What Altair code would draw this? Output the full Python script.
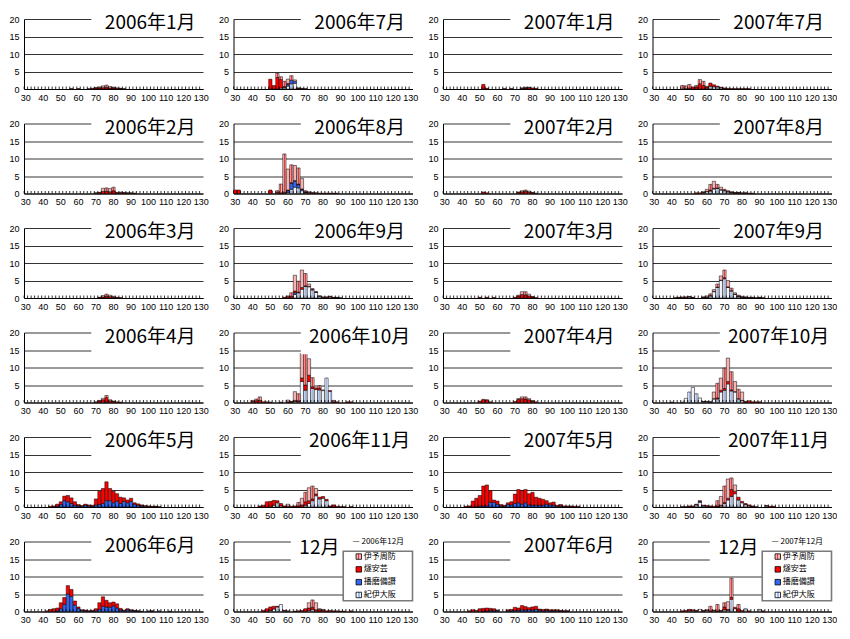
import altair as alt
import pandas as pd

# ---------------- data ----------------
CATS = list(range(30, 131, 2))          # size classes (x categories)
XLABELS = list(range(30, 131, 10))
YTICKS = [0, 5, 10, 15, 20]
SERIES = ["紀伊大阪", "播磨備讃", "燧安芸", "伊予周防"]      # stacking order, bottom -> top
LEGEND_ORDER = ["伊予周防", "燧安芸", "播磨備讃", "紀伊大阪"]

GRID = [
    ["2006年1月", "2006年7月", "2007年1月", "2007年7月"],
    ["2006年2月", "2006年8月", "2007年2月", "2007年8月"],
    ["2006年3月", "2006年9月", "2007年3月", "2007年9月"],
    ["2006年4月", "2006年10月", "2007年4月", "2007年10月"],
    ["2006年5月", "2006年11月", "2007年5月", "2007年11月"],
    ["2006年6月", "2006年12月", "2007年6月", "2007年12月"],
]

# each entry: size class -> (紀伊大阪, 播磨備讃, 燧安芸, 伊予周防)
D0601 = {56: (0, 0, 0.1, 0), 60: (0, 0, 0.1, 0), 66: (0, 0, 0.1, 0), 68: (0, 0, 0.2, 0),
         70: (0, 0, 0.3, 0.1), 72: (0, 0, 0.3, 0.3), 74: (0, 0, 0.4, 0.5), 76: (0, 0, 0.4, 0.7),
         78: (0, 0, 0.3, 0.4), 80: (0, 0, 0.3, 0.2), 82: (0, 0, 0.2, 0.1), 84: (0, 0, 0.1, 0.1),
         86: (0, 0, 0.1, 0)}
D0602 = {70: (0, 0, 0.1, 0.1), 72: (0, 0, 0.2, 0.1), 74: (0, 0, 0.6, 0.9), 76: (0, 0, 0.6, 1.0),
         78: (0, 0, 0.5, 0.9), 80: (0, 0, 0.8, 1.0), 82: (0, 0, 0.2, 0.1), 84: (0, 0, 0.2, 0.2),
         86: (0, 0, 0.2, 0.1), 88: (0, 0, 0.1, 0.1), 90: (0, 0, 0.1, 0.1), 92: (0, 0, 0.1, 0)}
D0603 = {72: (0, 0, 0.1, 0.1), 74: (0, 0, 0.3, 0.4), 76: (0, 0, 0.5, 0.6), 78: (0, 0, 0.4, 0.4),
         80: (0, 0, 0.2, 0.3), 82: (0, 0, 0.1, 0.1), 84: (0, 0, 0.1, 0)}
D0604 = {70: (0, 0, 0.2, 0), 72: (0, 0, 0.4, 0.2), 74: (0, 0, 0.8, 0.4), 76: (0, 0.2, 1.2, 0.6),
         78: (0, 0, 0.5, 0.3), 80: (0, 0, 0.3, 0.1), 82: (0, 0, 0.2, 0), 84: (0, 0, 0.1, 0)}
D0605 = {44: (0, 0, 0.2, 0), 46: (0, 0, 0.3, 0), 48: (0, 0.2, 0.6, 0), 50: (0, 0.7, 0.8, 0),
         52: (0, 1.8, 1.3, 0), 54: (0, 1.5, 1.8, 0), 56: (0, 1.0, 1.6, 0), 58: (0, 0.5, 1.0, 0),
         60: (0, 0.3, 0.4, 0), 62: (0, 0.2, 0.2, 0), 64: (0, 0.5, 0.3, 0), 66: (0, 0.3, 0.3, 0),
         68: (0, 0.2, 0.3, 0), 70: (0, 0.5, 1.8, 0), 72: (0, 0.7, 3.8, 0), 74: (0, 1.0, 4.3, 0),
         76: (0, 1.8, 5.4, 0), 78: (0, 1.8, 3.5, 0), 80: (0, 1.2, 3.3, 0), 82: (0, 1.7, 2.1, 0),
         84: (0, 1.0, 1.8, 0), 86: (0, 1.6, 1.0, 0), 88: (0, 1.2, 0.8, 0), 90: (0, 1.6, 0.9, 0),
         92: (0, 0.8, 0.4, 0), 94: (0, 0.5, 0.4, 0), 96: (0, 0.3, 0.3, 0), 98: (0, 0.2, 0.2, 0),
         100: (0, 0.1, 0.2, 0), 102: (0, 0.1, 0.1, 0), 104: (0, 0.1, 0.1, 0), 106: (0, 0, 0.1, 0)}
D0606 = {42: (0, 0, 0.2, 0), 44: (0, 0, 0.6, 0), 46: (0, 0, 0.8, 0), 48: (0, 0.2, 0.8, 0),
         50: (0, 0.8, 1.7, 0), 52: (0, 2.0, 2.0, 0), 54: (0, 5.0, 2.4, 0), 56: (0, 4.3, 2.0, 0),
         58: (0, 1.8, 1.2, 0), 60: (0, 0.9, 0.4, 0), 62: (0, 0.3, 0.2, 0), 64: (0, 0.2, 0.2, 0),
         66: (0, 0.1, 0.1, 0), 68: (0, 0.1, 0.2, 0), 70: (0, 0.2, 0.6, 0), 72: (0, 0.6, 1.9, 0),
         74: (0, 1.5, 2.7, 0), 76: (0, 1.3, 1.9, 0), 78: (0, 1.2, 1.3, 0), 80: (0, 1.6, 1.1, 0),
         82: (0, 1.0, 1.2, 0), 84: (0, 0.4, 0.5, 0), 86: (0, 0.2, 0.2, 0), 88: (0, 0.5, 0.3, 0),
         90: (0, 0.3, 0.2, 0), 92: (0, 0.2, 0.1, 0), 94: (0, 0.1, 0.1, 0), 96: (0, 0.1, 0, 0),
         100: (0, 0.2, 0, 0), 102: (0, 0.1, 0.1, 0), 106: (0, 0.2, 0, 0), 112: (0, 0.1, 0, 0)}
D0607 = {50: (0, 0, 2.8, 0), 52: (0, 0, 1.0, 0), 54: (0, 0, 3.3, 1.2), 56: (0.3, 0, 2.4, 0.8),
         58: (0.4, 0, 0.3, 1.5), 60: (0.8, 0.5, 0.3, 1.2), 62: (1.5, 1.0, 0, 1.3),
         64: (1.6, 0.6, 0, 0.4), 66: (0.1, 0, 0.1, 0.1), 68: (0, 0, 0.1, 0.1), 70: (0, 0, 0.1, 0)}
D0608 = {30: (0, 0, 1.0, 0), 32: (0, 0, 1.0, 0), 50: (0, 0, 1.0, 0), 54: (0, 0, 0.3, 0.5),
         56: (0, 0, 0.2, 2.5), 58: (0, 0, 0.3, 11.0), 60: (0.3, 0.5, 0.2, 6.0),
         62: (1.2, 1.7, 0.2, 5.1), 64: (1.8, 1.7, 0.2, 4.3), 66: (1.6, 0.9, 0.2, 4.6),
         68: (0.8, 0.3, 0.2, 3.0), 70: (0.2, 0.1, 0.2, 0.3), 72: (0.1, 0, 0.2, 0.2),
         74: (0, 0, 0.1, 0.2), 76: (0, 0, 0.1, 0.1), 78: (0, 0, 0.1, 0), 80: (0, 0, 0.1, 0),
         82: (0, 0, 0.1, 0), 84: (0, 0, 0.1, 0), 86: (0, 0, 0.1, 0), 88: (0, 0, 0.1, 0)}
D0609 = {58: (0, 0, 0.2, 0), 60: (0, 0, 0.4, 0.2), 62: (0, 0, 0.5, 1.0), 64: (1.0, 0.5, 0.5, 4.5),
         66: (1.5, 0, 0.2, 3.1), 68: (2.5, 0, 0.5, 5.0), 70: (3.3, 0, 0.2, 3.5),
         72: (3.2, 0, 0.1, 0.7), 74: (2.3, 0, 0.1, 0.3), 76: (1.6, 0, 0.1, 0.1),
         78: (0.5, 0, 0.1, 0), 80: (0.2, 0, 0.1, 0), 82: (0.2, 0, 0.1, 0), 84: (0.3, 0, 0.2, 0),
         86: (0.1, 0, 0.1, 0), 88: (0.1, 0, 0.1, 0), 90: (0.1, 0, 0, 0)}
D0610 = {40: (0, 0, 0.3, 0.3), 42: (0, 0, 0.5, 0.5), 44: (0, 0, 0.6, 1.0), 46: (0, 0, 0.2, 0),
         48: (0, 0, 0.2, 0), 50: (0, 0, 0.1, 0), 56: (0, 0, 0.1, 0), 60: (0, 0, 0.2, 0.5),
         62: (0, 0, 0.2, 0.1), 64: (0.3, 0, 0.3, 2.5), 66: (0.2, 0, 0.3, 2.0),
         68: (6.0, 0, 1.0, 7.0), 70: (3.5, 0, 1.5, 9.5), 72: (6.0, 0, 1.8, 4.7),
         74: (4.0, 0, 0.5, 2.6), 76: (3.7, 0, 0.5, 0), 78: (3.6, 0, 0.5, 0.7),
         80: (3.4, 0, 0, 0.2), 82: (7.0, 0, 0, 0), 84: (3.2, 0, 0.2, 0), 86: (0, 0, 0.2, 0.4),
         88: (0, 0, 0.2, 0), 94: (0, 0, 0.2, 0), 96: (0, 0, 0.2, 0)}
D0611 = {44: (0, 0, 0.3, 0), 46: (0, 0, 0.5, 0), 48: (0, 0, 1.5, 0), 50: (0, 0, 1.6, 0),
         52: (0.5, 0, 1.4, 0), 54: (1.2, 0, 0.6, 0), 56: (0.3, 0, 0.7, 0), 58: (0, 0, 0.3, 0),
         60: (0, 0, 0.2, 0.6), 62: (0, 0, 0.2, 0), 64: (0, 0, 0.3, 0), 66: (0, 0, 0.3, 1.0),
         68: (0, 0, 0.6, 1.9), 70: (0.5, 0, 1.0, 2.7), 72: (1.0, 0, 0.8, 3.7),
         74: (1.8, 0, 0.5, 3.7), 76: (3.2, 0, 0.5, 1.6), 78: (2.3, 0, 0.5, 0),
         80: (2.5, 0, 0.5, 0), 82: (1.8, 0, 0.4, 0), 84: (0.1, 0, 0.2, 0), 86: (0, 0, 0.6, 0),
         88: (0, 0, 0.2, 0), 90: (0, 0, 0.1, 0), 92: (0, 0, 0.1, 0), 96: (0, 0, 0.1, 0)}
D0612 = {46: (0, 0, 0.3, 0), 48: (0, 0, 0.8, 0), 50: (0.3, 0, 1.0, 0), 52: (0.7, 0, 0.8, 0),
         54: (1.3, 0, 0.2, 0), 56: (2.0, 0, 0, 0), 58: (0.2, 0, 0.1, 0), 60: (0, 0, 0.2, 0),
         64: (0, 0, 0.1, 0), 66: (0, 0, 0.2, 0), 68: (0, 0, 0.3, 0), 70: (0, 0, 0.8, 0),
         72: (0.3, 0, 0.7, 1.5), 74: (0.6, 0, 0.6, 2.1), 76: (0, 0, 0.5, 2.0),
         78: (0, 0, 0.5, 0.3), 80: (0, 0, 0.4, 0.2), 82: (0, 0, 0.2, 0), 84: (0, 0, 0.3, 0),
         86: (0, 0, 0.2, 0), 88: (0, 0, 0.2, 0), 90: (0, 0, 0.1, 0), 92: (0, 0, 0.1, 0),
         96: (0, 0, 0.2, 0)}
D0701 = {52: (0, 0, 1.3, 0), 54: (0, 0, 0.2, 0), 64: (0, 0, 0.1, 0), 68: (0, 0, 0.1, 0),
         74: (0, 0, 0.2, 0.1), 76: (0, 0, 0.3, 0.2), 78: (0, 0, 0.4, 0.1), 80: (0, 0, 0.3, 0),
         82: (0, 0, 0.2, 0)}
D0702 = {52: (0, 0, 0.4, 0), 54: (0, 0, 0.2, 0), 72: (0, 0, 0.3, 0.1), 74: (0, 0, 0.5, 0.3),
         76: (0, 0, 0.6, 0.4), 78: (0, 0, 0.4, 0.3), 80: (0, 0, 0.2, 0.1), 82: (0, 0, 0.1, 0)}
D0703 = {50: (0, 0, 0.2, 0), 54: (0, 0, 0.2, 0), 58: (0, 0, 0.1, 0), 70: (0, 0, 0.2, 0),
         72: (0, 0, 0.5, 0.3), 74: (0, 0, 1.0, 0.8), 76: (0, 0, 0.9, 0.9), 78: (0, 0, 0.6, 0.5),
         80: (0, 0, 0.3, 0.1), 82: (0, 0, 0.1, 0)}
D0704 = {50: (0, 0, 0.4, 0), 52: (0, 0, 0.9, 0), 54: (0, 0, 0.6, 0.2), 56: (0, 0, 0.2, 0),
         70: (0, 0, 0.3, 0), 72: (0, 0, 0.9, 0.2), 74: (0, 0, 1.1, 0.5), 76: (0, 0, 1.0, 0.6),
         78: (0, 0, 0.8, 0.3), 80: (0, 0, 0.4, 0.1), 82: (0, 0, 0.2, 0)}
D0705 = {42: (0, 0, 0.2, 0), 44: (0, 0, 0.3, 0), 46: (0, 0, 1.7, 0), 48: (0, 0.1, 2.4, 0),
         50: (0, 0.2, 3.1, 0), 52: (0, 0.3, 5.7, 0), 54: (0, 0.3, 6.0, 0), 56: (0, 1.3, 3.4, 0),
         58: (0, 1.3, 0.7, 0), 60: (0, 0.8, 0.9, 0), 62: (0, 0.3, 0.4, 0), 64: (0, 0.2, 0.3, 0),
         66: (0, 0.7, 0.5, 0), 68: (0, 0.6, 0.9, 0), 70: (0, 1.0, 2.7, 0), 72: (0, 1.2, 3.8, 0),
         74: (0, 0.8, 3.9, 0), 76: (0, 1.2, 3.8, 0), 78: (0, 0.6, 3.2, 0), 80: (0, 0.5, 3.7, 0),
         82: (0, 0.5, 2.3, 0), 84: (0, 0.5, 2.0, 0), 86: (0, 0.5, 1.7, 0), 88: (0, 0.8, 1.0, 0),
         90: (0, 0.6, 0.6, 0), 92: (0, 0.5, 0.9, 0), 94: (0, 0.2, 0.3, 0), 96: (0, 0.3, 0.4, 0),
         98: (0, 0.1, 0.2, 0), 100: (0, 0.1, 0.2, 0), 102: (0, 0.1, 0.2, 0), 104: (0, 0, 0.2, 0),
         106: (0, 0, 0.2, 0)}
D0706 = {44: (0, 0, 0.2, 0), 46: (0, 0, 0.5, 0), 48: (0, 0, 0.3, 0), 50: (0, 0, 0.8, 0),
         52: (0, 0.1, 0.8, 0), 54: (0, 0.1, 0.9, 0), 56: (0, 0.3, 0.6, 0), 58: (0, 0.2, 0.6, 0),
         60: (0, 0.3, 0.1, 0), 66: (0, 0.2, 0.3, 0), 68: (0, 0.2, 0.4, 0), 70: (0, 0.3, 0.9, 0),
         72: (0, 0.3, 0.7, 0), 74: (0, 0.5, 1.2, 0), 76: (0, 0.4, 1.0, 0), 78: (0, 0.5, 0.6, 0),
         80: (0, 0.4, 0.9, 0), 82: (0, 0.6, 0.9, 0), 84: (0, 0.3, 0.4, 0), 86: (0, 0.2, 0.4, 0),
         88: (0, 0.3, 0.4, 0), 90: (0, 0.2, 0.3, 0), 92: (0, 0.2, 0.3, 0), 94: (0, 0.2, 0.3, 0),
         96: (0, 0.1, 0.2, 0), 98: (0, 0.1, 0.1, 0), 100: (0, 0.1, 0.1, 0)}
D0707 = {46: (0, 0, 0, 1.0), 48: (0, 0, 0.1, 0.8), 50: (0, 0, 0.2, 1.1), 52: (0, 0, 0.6, 0),
         54: (0, 0, 0.6, 0.4), 56: (0, 0, 1.5, 1.2), 58: (0, 0, 1.0, 1.2), 60: (0.2, 0, 0.4, 0.2),
         62: (0.8, 0, 0.9, 0), 64: (0.6, 0, 0.6, 0), 66: (0.6, 0, 0.2, 0), 68: (0.3, 0, 0.2, 0),
         70: (0.1, 0, 0.2, 0), 72: (0, 0, 0.2, 0), 74: (0, 0, 0.1, 0), 76: (0, 0, 0.1, 0),
         78: (0, 0, 0.1, 0), 80: (0, 0, 0.1, 0), 82: (0, 0, 0.1, 0), 84: (0, 0, 0.1, 0)}
D0708 = {54: (0, 0, 0.2, 0), 56: (0, 0, 0.2, 0), 58: (0.2, 0, 0.1, 0.2), 60: (0.5, 0, 0.1, 0.6),
         62: (0.7, 0, 0.3, 1.6), 64: (1.3, 0, 0.2, 2.0), 66: (1.5, 0, 0.1, 1.0),
         68: (1.0, 0, 0.1, 0.7), 70: (0.8, 0, 0.1, 0.3), 72: (0.4, 0, 0.2, 0.2),
         74: (0.2, 0, 0.1, 0.2), 76: (0.1, 0, 0.1, 0.1), 78: (0.1, 0, 0.1, 0.1),
         80: (0, 0, 0.1, 0.1), 82: (0, 0, 0.1, 0.1), 84: (0, 0, 0.1, 0), 86: (0, 0, 0.1, 0)}
D0709 = {42: (0, 0, 0.1, 0), 44: (0.1, 0, 0.1, 0), 46: (0.1, 0, 0.2, 0), 48: (0.2, 0, 0.1, 0),
         50: (0.3, 0, 0.1, 0), 52: (0.1, 0, 0.1, 0), 58: (0.1, 0, 0.1, 0.1), 60: (0.2, 0, 0.1, 0.3),
         62: (0.6, 0, 0.1, 0.5), 64: (1.8, 0, 0.1, 0.5), 66: (3.0, 0, 0.1, 0.9),
         68: (5.0, 0, 0.1, 1.2), 70: (5.5, 0, 0.3, 2.2), 72: (3.0, 0, 0.2, 1.8),
         74: (2.0, 0, 0.1, 0.7), 76: (1.0, 0, 0.1, 0.4), 78: (0.4, 0, 0.1, 0.3),
         80: (0.2, 0, 0.1, 0.2), 82: (0.1, 0, 0.1, 0.1), 84: (0.1, 0, 0.1, 0),
         86: (0, 0, 0.1, 0.1), 88: (0, 0, 0.1, 0), 90: (0, 0, 0.1, 0.1), 92: (0, 0, 0.1, 0)}
D0710 = {40: (0, 0, 0.1, 0), 46: (0.1, 0, 0, 0), 48: (1.2, 0, 0, 0), 50: (3.0, 0, 0, 0),
         52: (4.3, 0, 0, 0), 54: (2.5, 0, 0, 0), 56: (1.3, 0, 0, 0), 58: (0.2, 0, 0.1, 0),
         60: (0.2, 0, 0.1, 0), 62: (0.1, 0, 0.1, 0), 64: (1.0, 0, 0.1, 1.9), 66: (1.0, 0, 0.3, 4.2),
         68: (3.0, 0, 0.5, 3.5), 70: (3.5, 0, 0.5, 5.8), 72: (5.3, 0, 0.7, 6.7),
         74: (3.3, 0, 0.3, 5.2), 76: (3.0, 0, 0.1, 2.9), 78: (1.0, 0, 0.1, 2.7),
         80: (0.5, 0, 0.1, 2.4), 82: (0.1, 0, 0.2, 0), 84: (0, 0, 0.5, 0), 86: (0, 0, 0.2, 0),
         88: (0, 0, 0.2, 0), 90: (0, 0, 0.2, 0)}
D0711 = {46: (0, 0, 0.1, 0), 48: (0, 0, 0.1, 0), 50: (0.1, 0, 0.2, 0), 52: (0.1, 0, 0.2, 0),
         54: (0.6, 0, 0.2, 0), 56: (1.3, 0.3, 0.2, 0), 58: (0.3, 0, 0.2, 0), 60: (0.2, 0, 0.2, 0),
         62: (0.1, 0, 0.2, 0), 64: (0, 0, 0.2, 0), 66: (0, 0, 0.3, 1.5), 68: (0.3, 0, 0.2, 2.5),
         70: (1.0, 0, 0.3, 4.7), 72: (2.0, 0, 0.5, 5.5), 74: (3.0, 0, 2.0, 3.3),
         76: (3.8, 0, 0.7, 1.8), 78: (2.0, 0, 0.8, 0), 80: (1.2, 0, 0.4, 0), 82: (0.7, 0, 0.3, 0),
         84: (0.3, 0, 0.3, 0), 86: (0.1, 0, 0.2, 0), 88: (0, 0, 0.1, 0), 94: (0.3, 0, 0.1, 0),
         96: (0, 0, 0.2, 0), 98: (0, 0, 0.2, 0)}
D0712 = {46: (0, 0, 0.2, 0), 48: (0, 0, 0.3, 0), 50: (0.2, 0, 0.4, 0), 52: (0.2, 0, 0.3, 0),
         54: (0.1, 0, 0.2, 0), 56: (0.6, 0, 0, 0), 58: (0.1, 0, 0.2, 0), 60: (0.3, 0, 0.2, 0),
         62: (0, 0, 0.2, 1.3), 64: (0.2, 0, 0.2, 0), 66: (0, 0, 0.2, 1.8), 68: (0.1, 0, 0.2, 0),
         70: (0.5, 0, 0.8, 1.2), 72: (0.3, 0, 0.3, 2.2), 74: (3.5, 0, 0.5, 5.5),
         76: (0.8, 0, 0.4, 0), 78: (0, 0, 0.8, 1.2), 80: (0, 0, 0.3, 0), 82: (0.8, 0, 0, 0),
         84: (0, 0, 0.2, 0), 90: (0.6, 0, 0, 0), 92: (0, 0, 0.2, 0)}

DATA = {
    "2006年1月": D0601, "2006年2月": D0602, "2006年3月": D0603, "2006年4月": D0604,
    "2006年5月": D0605, "2006年6月": D0606, "2006年7月": D0607, "2006年8月": D0608,
    "2006年9月": D0609, "2006年10月": D0610, "2006年11月": D0611, "2006年12月": D0612,
    "2007年1月": D0701, "2007年2月": D0702, "2007年3月": D0703, "2007年4月": D0704,
    "2007年5月": D0705, "2007年6月": D0706, "2007年7月": D0707, "2007年8月": D0708,
    "2007年9月": D0709, "2007年10月": D0710, "2007年11月": D0711, "2007年12月": D0712,
}

# ---------------- style ----------------
W, H = 179, 70
FONT_NUM = "Liberation Sans"
FONT_JP = "Noto Sans CJK JP"


def stripes(base, stripe, lo, hi):
    return {"gradient": "linear", "x1": 0, "y1": 0, "x2": 1, "y2": 0,
            "stops": [{"offset": 0, "color": base}, {"offset": lo, "color": base},
                      {"offset": lo, "color": stripe}, {"offset": hi, "color": stripe},
                      {"offset": hi, "color": base}, {"offset": 1, "color": base}]}


FILLS = {
    "伊予周防": stripes("#f8b2b2", "#e8383a", 0.38, 0.62),
    "燧安芸": "#ff0000",
    "播磨備讃": "#2f66f2",
    "紀伊大阪": stripes("#eef3fd", "#9dbaf2", 0.4, 0.65),
}

XSCALE = alt.Scale(domain=CATS, paddingInner=0.06, paddingOuter=0.03)
XAXIS = alt.Axis(values=XLABELS, labelAngle=0, ticks=False, title=None, grid=False,
                 domainColor="black", domainWidth=1, labelFontSize=9, labelPadding=4,
                 labelOverlap=False, labelColor="black", labelFont=FONT_NUM)
YSCALE = alt.Scale(domain=[0, 20], nice=False, zero=True)
YAXIS = alt.Axis(values=YTICKS, grid=True, gridColor="black", gridWidth=0.8, gridOpacity=1,
                 domainColor="black", domainWidth=1, ticks=False, labelPadding=5, title=None,
                 labelFontSize=9, labelColor="black", labelFont=FONT_NUM)


def one():
    return alt.Chart(pd.DataFrame({"t": [""]}))


def make_panel(name, row):
    recs = []
    for c, tup in DATA[name].items():
        for k, v in enumerate(tup):
            if v > 0:
                recs.append({"c": c, "s": SERIES[k], "k": k, "v": v})
    df = pd.DataFrame(recs)
    stacked = alt.Chart(df).transform_stack(
        stack="v", groupby=["c"], as_=["y0", "y1"],
        sort=[alt.SortField("k", order="ascending")])
    x = alt.X("c:O", scale=XSCALE, axis=XAXIS)
    layers = []
    for s in SERIES:
        layers.append(
            stacked.transform_filter(alt.datum.s == s)
            .mark_bar(fill=FILLS[s], stroke="black", strokeWidth=0.5)
            .encode(x=x, y=alt.Y("y0:Q", scale=YSCALE, axis=YAXIS), y2="y1:Q"))
    ticks = alt.Chart(pd.DataFrame({"c": CATS})).mark_rule(color="black", strokeWidth=0.8).encode(
        x=alt.X("c:O", scale=XSCALE, axis=XAXIS, bandPosition=0),
        y=alt.value(H), y2=alt.value(H - 2.5))
    layers.append(ticks)

    is_dec = name.endswith("12月")
    lower = row >= 3
    box_bottom = H * (1 - (13.8 if lower else 16.6) / 20)
    box_left = (0.32 if is_dec else 0.376) * W
    layers.append(one().mark_rect(fill="white").encode(
        x=alt.value(box_left), x2=alt.value(W + 1), y=alt.value(-2), y2=alt.value(box_bottom)))
    label = "12月" if is_dec else name
    tx = (0.48 if is_dec else 0.705) * W
    ty = 6 if is_dec else 4
    layers.append(alt.Chart(pd.DataFrame({"t": [label]})).mark_text(
        font=FONT_JP, fontSize=19, align="center", baseline="middle", color="black").encode(
        x=alt.value(tx), y=alt.value(ty), text="t:N"))

    main = alt.layer(*layers)
    if not is_dec:
        return main.properties(width=W, height=H)

    # in-panel legend for the December panels
    year = name[:5]
    leg = []
    leg.append(one().mark_rect(fill="white", stroke="#7a7a7a", strokeWidth=1.6).encode(
        x=alt.value(0.613 * W), x2=alt.value(W), y=alt.value(10 * H / 72), y2=alt.value(61 * H / 72)))
    leg.append(alt.Chart(pd.DataFrame({"t": ["— " + year + "12月"]})).mark_text(
        font=FONT_JP, fontSize=8, align="left", baseline="middle", color="black").encode(
        x=alt.value(0.665 * W), y=alt.value(0), text="t:N"))
    ldf = alt.Chart(pd.DataFrame({"s": LEGEND_ORDER}))
    ly = alt.Y("s:N", scale=alt.Scale(domain=LEGEND_ORDER, range=[15.5 * H / 72, 55 * H / 72], padding=0),
               axis=None)
    for s in LEGEND_ORDER:
        leg.append(ldf.transform_filter(alt.datum.s == s).mark_square(
            size=30, fill=FILLS[s], stroke="black", strokeWidth=0.8, opacity=1).encode(
            x=alt.value(0.70 * W), y=ly))
    leg.append(ldf.mark_text(font=FONT_JP, fontSize=8, align="left", baseline="middle",
                             color="black").encode(x=alt.value(0.728 * W), y=ly, text="s:N"))
    return alt.layer(main, alt.layer(*leg)).resolve_scale(y="independent").properties(width=W, height=H)


panels = []
for r, names in enumerate(GRID):
    for n in names:
        panels.append(make_panel(n, r))

chart = alt.concat(*panels, columns=4, spacing={"row": 34.5, "column": 30.5}, bounds="flush").properties(
    padding={"left": 0, "top": 6, "right": 0, "bottom": 0}
).configure_view(stroke=None)

chart.save("out.html", embed_options={"renderer": "svg", "actions": False})
